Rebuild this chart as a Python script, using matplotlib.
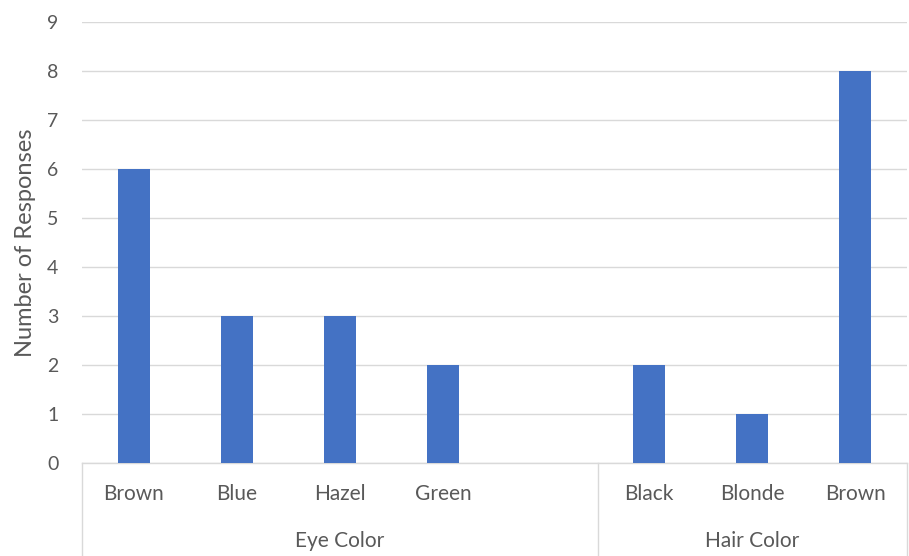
import matplotlib
matplotlib.use("Agg")
import matplotlib.pyplot as plt
import matplotlib.transforms as mtransforms

# Responses grouped by attribute
eye_labels = ["Brown", "Blue", "Hazel", "Green", ""]
eye_values = [6, 3, 3, 2, None]
hair_labels = ["Black", "Blonde", "Brown"]
hair_values = [2, 1, 8]
group_names = ["Eye Color", "Hair Color"]
y_ticks = list(range(0, 10))

labels = eye_labels + hair_labels
values = eye_values + hair_values
group_sizes = [len(eye_labels), len(hair_labels)]

BAR = "#4472C4"
GRID = "#D9D9D9"
TEXT = "#595959"
plt.rcParams["font.family"] = ["Lato", "DejaVu Sans"]

fig = plt.figure(figsize=(9.09, 5.56), dpi=100)
ax = fig.add_axes([82 / 909, 1 - 463 / 556, 825 / 909, 441 / 556])

xs = [i for i, v in enumerate(values) if v is not None]
vs = [v for v in values if v is not None]
ax.bar(xs, vs, width=0.31, color=BAR, zorder=3)

ax.set_xlim(-0.5, len(labels) - 0.5)
ax.set_ylim(0, 9)
ax.set_yticks(y_ticks)
ax.set_yticklabels([str(t) for t in y_ticks])
ax.yaxis.grid(True, color=GRID, linewidth=1)
ax.set_axisbelow(True)
ax.tick_params(axis="y", length=0, pad=17, labelsize=14, labelcolor=TEXT)
ax.set_xticks([])
for s in ["top", "right", "left"]:
    ax.spines[s].set_visible(False)
ax.spines["bottom"].set_color(GRID)
ax.spines["bottom"].set_linewidth(1)

ax.set_ylabel("Number of Responses", fontsize=17, color=TEXT, labelpad=8)

trans = mtransforms.blended_transform_factory(ax.transData, ax.transAxes)
px = 1 / 441.0  # axes-fraction per pixel vertically

# Category labels
for i, lab in enumerate(labels):
    ax.text(i, -31 * px, lab, transform=trans, ha="center", va="center",
            fontsize=15, color=TEXT)

# Group labels and separators
start = -0.5
bounds = [start]
for name, n in zip(group_names, group_sizes):
    end = start + n
    ax.text((start + end) / 2, -78 * px, name, transform=trans, ha="center",
            va="center", fontsize=15, color=TEXT)
    start = end
    bounds.append(end)
for b in bounds:
    ax.plot([b, b], [0, -93 * px], transform=trans, color=GRID, linewidth=1,
            clip_on=False)

fig.savefig("out.png", dpi=100)
